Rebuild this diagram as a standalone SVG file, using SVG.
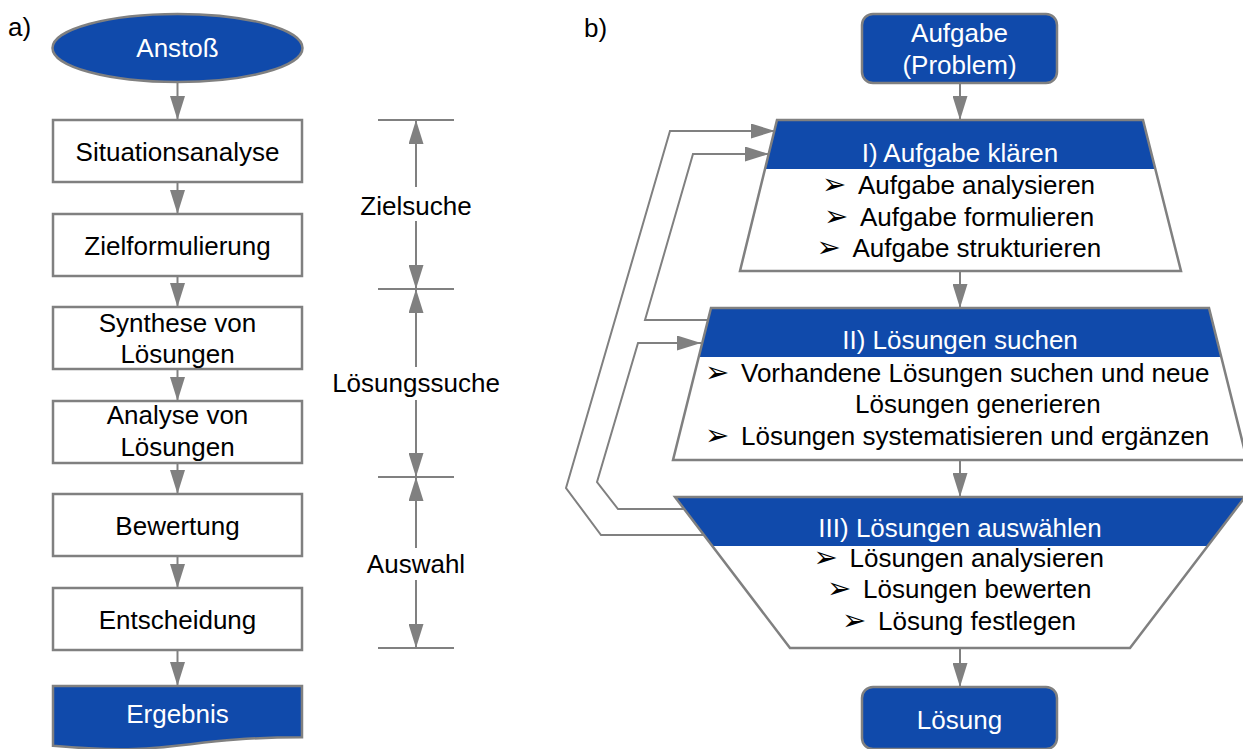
<svg xmlns="http://www.w3.org/2000/svg" width="1243" height="749" viewBox="0 0 1243 749">
  <defs>
    <marker id="arrow" markerUnits="userSpaceOnUse" markerWidth="24" markerHeight="15" refX="24" refY="7.5" orient="auto">
      <path d="M0,0 L24,7.5 L0,15 Z" fill="#808080"/>
    </marker>
    <style>
      text { font-family: "Liberation Sans", Arial, sans-serif; font-size: 26px; }
      .dark { fill: #000000; }
      .light { fill: #ffffff; }
      .mid { text-anchor: middle; }
      .bullet { font-family: "DejaVu Sans", sans-serif; font-size: 29px; fill: #000000; }
      .box { fill: #ffffff; stroke: #808080; stroke-width: 2.5; }
      .blue { fill: #104AAB; stroke: #808080; stroke-width: 2.5; }
      .head { fill: #104AAB; stroke: none; }
      .outline { fill: none; stroke: #808080; stroke-width: 2.5; stroke-linejoin: miter; }
      .conn { fill: none; stroke: #808080; stroke-width: 2; }
      .arr { fill: none; stroke: #808080; stroke-width: 2; marker-end: url(#arrow); }
    </style>
  </defs>

  <rect width="1243" height="749" fill="#ffffff"/>

  <!-- panel labels -->
  <text x="8" y="36" class="dark">a)</text>
  <text x="584" y="37" class="dark">b)</text>

  <!-- ===== a) sequential process ===== -->
  <g id="node-anstoss">
    <ellipse cx="177.5" cy="48" rx="125" ry="34" class="blue"/>
    <text x="177.5" y="57" class="light mid">Anstoß</text>
  </g>
  <g id="node-situationsanalyse">
    <rect x="53" y="120" width="249" height="62" class="box"/>
    <text x="177.5" y="161" class="dark mid">Situationsanalyse</text>
  </g>
  <g id="node-zielformulierung">
    <rect x="53" y="214" width="249" height="62" class="box"/>
    <text x="177.5" y="255" class="dark mid">Zielformulierung</text>
  </g>
  <g id="node-synthese">
    <rect x="53" y="307" width="249" height="62" class="box"/>
    <text x="177.5" y="332" class="dark mid">Synthese von</text>
    <text x="177.5" y="363" class="dark mid">Lösungen</text>
  </g>
  <g id="node-analyse">
    <rect x="53" y="401" width="249" height="62" class="box"/>
    <text x="177.5" y="424" class="dark mid">Analyse von</text>
    <text x="177.5" y="456" class="dark mid">Lösungen</text>
  </g>
  <g id="node-bewertung">
    <rect x="53" y="494" width="249" height="62" class="box"/>
    <text x="177.5" y="535" class="dark mid">Bewertung</text>
  </g>
  <g id="node-entscheidung">
    <rect x="53" y="588" width="249" height="62" class="box"/>
    <text x="177.5" y="629" class="dark mid">Entscheidung</text>
  </g>
  <g id="node-ergebnis">
    <path d="M53,686 H302 V737.3 C177.5,737.3 177.5,756.9 53,745.8 Z" class="blue"/>
    <text x="177.5" y="723" class="light mid">Ergebnis</text>
  </g>

  <!-- phase dimensions -->
  <g id="phase-zielsuche">
    <line x1="378" y1="120" x2="454" y2="120" class="conn"/>
    <line x1="378" y1="289" x2="454" y2="289" class="conn"/>
    <text x="416" y="215" class="dark mid">Zielsuche</text>
  </g>
  <g id="phase-loesungssuche">
    <line x1="378" y1="477" x2="454" y2="477" class="conn"/>
    <text x="416" y="392" class="dark mid">Lösungssuche</text>
  </g>
  <g id="phase-auswahl">
    <line x1="378" y1="648" x2="454" y2="648" class="conn"/>
    <text x="416" y="573" class="dark mid">Auswahl</text>
  </g>

  <!-- ===== b) problem-solving cycle ===== -->
  <g id="node-aufgabe">
    <rect x="862" y="14" width="195" height="69" rx="11" class="blue"/>
    <text x="959.5" y="42" class="light mid">Aufgabe</text>
    <text x="959.5" y="74" class="light mid">(Problem)</text>
  </g>

  <g id="node-aufgabe-klaeren">
    <polygon points="777,120 1143,120 1181,271 740,271" fill="#ffffff"/>
    <polygon points="777,120 1143,120 1155.3,169 764.7,169" class="head"/>
    <polygon points="777,120 1143,120 1181,271 740,271" class="outline"/>
    <text x="960" y="162" class="light mid">I) Aufgabe klären</text>
    <text x="822" y="194" class="bullet">➢</text>
    <text x="858" y="194" class="dark">Aufgabe analysieren</text>
    <text x="824" y="225.5" class="bullet">➢</text>
    <text x="860" y="225.5" class="dark">Aufgabe formulieren</text>
    <text x="816.5" y="257" class="bullet">➢</text>
    <text x="852.5" y="257" class="dark">Aufgabe strukturieren</text>
  </g>

  <g id="node-loesungen-suchen">
    <polygon points="711,308 1209,308 1247,460 673,460" fill="#ffffff"/>
    <polygon points="711,308 1209,308 1221.3,357 698.7,357" class="head"/>
    <polygon points="711,308 1209,308 1247,460 673,460" class="outline"/>
    <text x="960" y="349" class="light mid">II) Lösungen suchen</text>
    <text x="705" y="382" class="bullet">➢</text>
    <text x="741" y="382" class="dark">Vorhandene Lösungen suchen und neue</text>
    <text x="855" y="413" class="dark">Lösungen generieren</text>
    <text x="705" y="445" class="bullet">➢</text>
    <text x="741" y="445" class="dark">Lösungen systematisieren und ergänzen</text>
  </g>

  <g id="node-loesungen-auswaehlen">
    <polygon points="675,497 1245,497 1130,648 790,648" fill="#ffffff"/>
    <polygon points="675,497 1245,497 1207.7,546 712.3,546" class="head"/>
    <polygon points="675,497 1245,497 1130,648 790,648" class="outline"/>
    <text x="960" y="537" class="light mid">III) Lösungen auswählen</text>
    <text x="813.5" y="567" class="bullet">➢</text>
    <text x="849.5" y="567" class="dark">Lösungen analysieren</text>
    <text x="827" y="598" class="bullet">➢</text>
    <text x="863" y="598" class="dark">Lösungen bewerten</text>
    <text x="842" y="630" class="bullet">➢</text>
    <text x="878" y="630" class="dark">Lösung festlegen</text>
  </g>

  <g id="node-loesung">
    <rect x="862" y="687" width="195" height="62" rx="11" class="blue"/>
    <text x="959.5" y="729" class="light mid">Lösung</text>
  </g>

  <!-- connectors -->
  <g id="connectors">
    <!-- a) flow -->
    <line x1="177.5" y1="82" x2="177.5" y2="120" class="arr"/>
    <line x1="177.5" y1="182" x2="177.5" y2="214" class="arr"/>
    <line x1="177.5" y1="276" x2="177.5" y2="307" class="arr"/>
    <line x1="177.5" y1="369" x2="177.5" y2="401" class="arr"/>
    <line x1="177.5" y1="463" x2="177.5" y2="494" class="arr"/>
    <line x1="177.5" y1="556" x2="177.5" y2="588" class="arr"/>
    <line x1="177.5" y1="650" x2="177.5" y2="686" class="arr"/>

    <!-- a) dimension arrows -->
    <line x1="416" y1="187" x2="416" y2="120" class="arr"/>
    <line x1="416" y1="221" x2="416" y2="289" class="arr"/>
    <line x1="416" y1="367" x2="416" y2="289" class="arr"/>
    <line x1="416" y1="400" x2="416" y2="477" class="arr"/>
    <line x1="416" y1="548" x2="416" y2="477" class="arr"/>
    <line x1="416" y1="580" x2="416" y2="648" class="arr"/>

    <!-- b) main flow -->
    <line x1="960" y1="83" x2="960" y2="120" class="arr"/>
    <line x1="960" y1="271" x2="960" y2="308" class="arr"/>
    <line x1="960" y1="460" x2="960" y2="497" class="arr"/>
    <line x1="960" y1="648" x2="960" y2="687" class="arr"/>

    <!-- b) feedback loops -->
    <polyline points="704,535 601,535 566,488 670,131 775,131" class="arr"/>
    <polyline points="684,509 618,509 597,482 638,343 701,343" class="arr"/>
    <polyline points="708,320 645,320 693,154 769,154" class="arr"/>
  </g>
</svg>
